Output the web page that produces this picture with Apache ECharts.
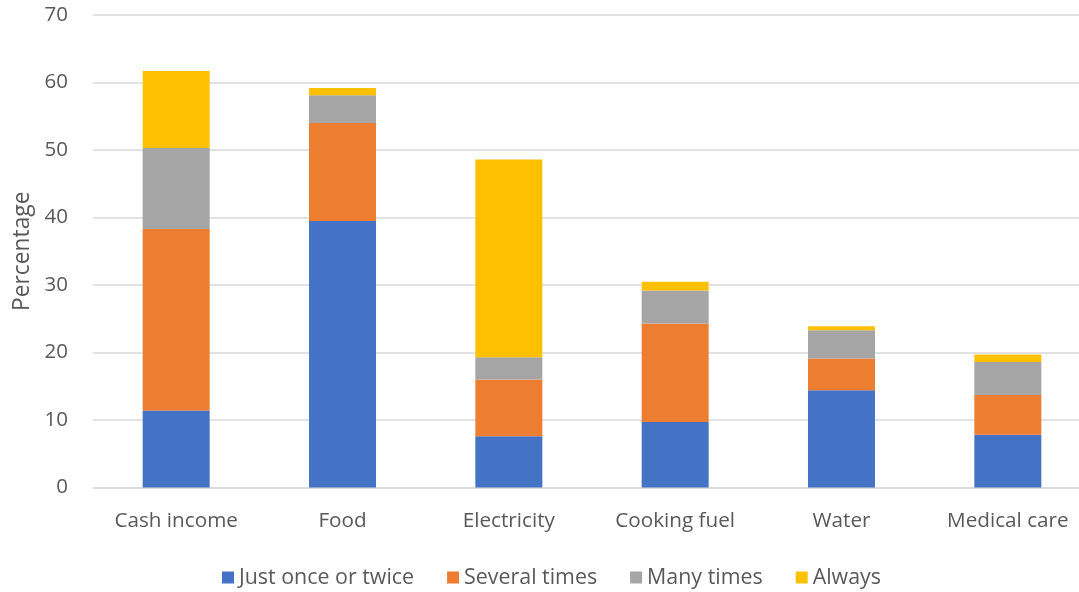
<!DOCTYPE html>
<html>
<head>
<meta charset="utf-8">
<script src="https://cdn.jsdelivr.net/npm/echarts@6/dist/echarts.min.js"></script>
<style>
  html, body { margin: 0; padding: 0; background: #ffffff; overflow: hidden; }
  #chart { width: 1091px; height: 592px; }
</style>
</head>
<body>
<div id="chart"></div>
<script>
const categories = ['Cash income', 'Food', 'Electricity', 'Cooking fuel', 'Water', 'Medical care'];
const justOnceOrTwice = [11.4, 39.5, 7.6, 9.7, 14.4, 7.8];
const severalTimes = [26.9, 14.5, 8.4, 14.6, 4.7, 5.9];
const manyTimes = [12.0, 4.1, 3.3, 4.9, 4.2, 4.9];
const always = [11.4, 1.1, 29.3, 1.3, 0.6, 1.1];
const yTicks = [0, 10, 20, 30, 40, 50, 60, 70];

const FONT = '"Open Sans", sans-serif';
const TEXT = '#595959';

const seriesDefs = [
  { name: 'Just once or twice', data: justOnceOrTwice, color: '#4472C4' },
  { name: 'Several times', data: severalTimes, color: '#ED7D31' },
  { name: 'Many times', data: manyTimes, color: '#A5A5A5' },
  { name: 'Always', data: always, color: '#FFC000' }
];

const chart = echarts.init(document.getElementById('chart'), null, { renderer: 'canvas' });
chart.setOption({
  animation: false,
  backgroundColor: '#ffffff',
  textStyle: { fontFamily: FONT },
  grid: { left: 93, top: 15, right: 0, bottom: 104.5, containLabel: false },
  legend: {
    top: 562,
    left: 217,
    itemWidth: 12,
    itemHeight: 12,
    itemGap: 33,
    icon: 'rect',
    textStyle: { color: TEXT, fontSize: 21.4, fontFamily: FONT },
    data: seriesDefs.map(s => s.name)
  },
  xAxis: {
    type: 'category',
    data: categories,
    axisLine: { lineStyle: { color: '#D9D9D9', width: 1.5 } },
    axisTick: { show: false },
    axisLabel: { color: TEXT, fontSize: 20.7, fontFamily: FONT, margin: 23 }
  },
  yAxis: {
    type: 'value',
    min: yTicks[0],
    max: yTicks[yTicks.length - 1],
    interval: 10,
    name: 'Percentage',
    nameLocation: 'middle',
    nameRotate: 90,
    nameGap: 59,
    nameTextStyle: { color: TEXT, fontSize: 22.8, fontFamily: FONT },
    axisLine: { show: false },
    axisTick: { show: false },
    axisLabel: { color: TEXT, fontSize: 20.5, fontFamily: FONT, margin: 25 },
    splitLine: { lineStyle: { color: '#D9D9D9', width: 1.5 } }
  },
  series: seriesDefs.map(s => ({
    name: s.name,
    type: 'bar',
    stack: 'total',
    barWidth: 67,
    data: s.data,
    itemStyle: { color: s.color }
  }))
});
</script>
</body>
</html>
